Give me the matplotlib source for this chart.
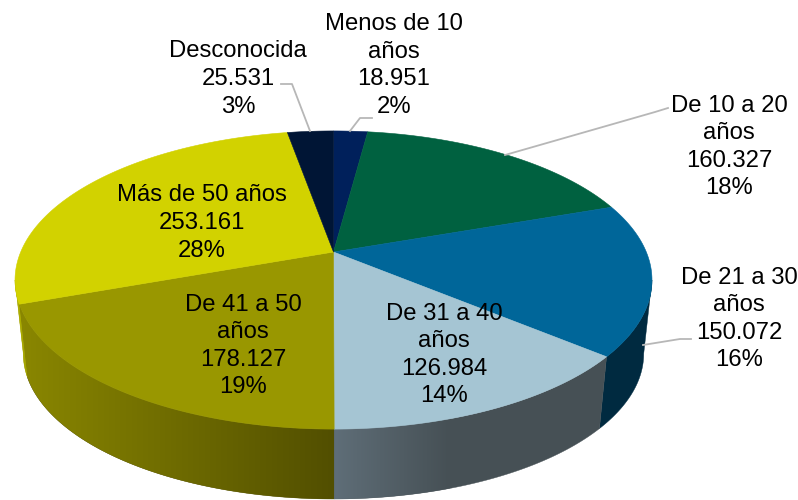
import numpy as np
import matplotlib
matplotlib.use('Agg')
import matplotlib.pyplot as plt
from matplotlib.colors import LinearSegmentedColormap
from matplotlib.patches import Polygon

categories = ['Menos de 10\naños', 'De 10 a 20\naños', 'De 21 a 30\naños', 'De 31 a 40\naños',
              'De 41 a 50\naños', 'Más de 50 años', 'Desconocida']
values = [18951, 160327, 150072, 126984, 178127, 253161, 25531]
percents = ['2%', '18%', '16%', '14%', '19%', '28%', '3%']

top_colors = ['#00205b', '#006140', '#006699', '#a5c5d3', '#999700', '#d2d200', '#001535']
wall_left = ['#00205b', '#006140', '#002a40', '#5f6e78', '#8a8700', '#b5b500', '#001535']
wall_right = ['#00205b', '#006140', '#002a40', '#465055', '#524f00', '#a0a000', '#001535']

label_pos = [(394, 65.5), (729, 147), (739, 319), (444, 355), (243, 346), (202, 223), (238, 79)]
leaders = [
    [(372, 118), (360, 118), (350, 131)],
    [(668, 108), (655, 112), (505, 155)],
    [(691, 339), (680, 339), (643, 345)],
    [(281, 84), (292, 84), (310, 131)],
]

CX, CY = 333.5, 252
A, B, K = 312.8, 143.8, 0.188
DROP, SHRINK = 74.5, 0.974


def project(t, bottom=False):
    # perspective view of the unit circle, t clockwise from 12 o'clock
    d = 1 + K * np.cos(t)
    x = A * np.sin(t) / d
    y = B * np.cos(t) / d
    if bottom:
        return CX + x * SHRINK, CY + DROP - y * SHRINK
    return CX + x, CY - y


fig = plt.figure(figsize=(7.98, 5), dpi=100)
ax = fig.add_axes([0, 0, 1, 1])

edges = 2 * np.pi * np.concatenate([[0], np.cumsum(values)]) / sum(values)

# the wall only shows between the two widest points of the ellipse
side = np.arccos(-K)
for i in range(len(values)):
    t0 = max(edges[i], side)
    t1 = min(edges[i + 1], 2 * np.pi - side)
    if t1 <= t0:
        continue
    t = np.linspace(t0, t1, 200)
    xt, yt = project(t)
    xb, yb = project(t, bottom=True)
    xs = np.r_[xt, xb[::-1]]
    ys = np.r_[yt, yb[::-1]]
    ax.fill(xs, ys, fc=wall_right[i], ec=wall_right[i], lw=0.3, zorder=1)
    if wall_left[i] != wall_right[i]:
        clip = Polygon(np.column_stack([xs, ys]), fc='none', ec='none', transform=ax.transData)
        ax.add_patch(clip)
        cmap = LinearSegmentedColormap.from_list('w', [wall_left[i], wall_right[i]])
        x1 = 450 if i == 3 else xs.max()  # the grey wall stops changing at 450
        im = ax.imshow(np.linspace(0, 1, 256)[None, :], cmap=cmap, aspect='auto', zorder=1.1,
                       extent=[xs.min(), x1, ys.max(), ys.min()])
        im.set_clip_path(clip)

# top face
for i in range(len(values)):
    t = np.linspace(edges[i], edges[i + 1], 200)
    xt, yt = project(t)
    ax.fill(np.r_[CX, xt], np.r_[CY, yt], fc=top_colors[i], ec=top_colors[i], lw=0.4, zorder=2)

for pts in leaders:
    xs, ys = zip(*pts)
    ax.plot(xs, ys, color='#b7b7b7', lw=1.3, zorder=3)

for cat, val, pct, (x, y) in zip(categories, values, percents, label_pos):
    txt = cat + '\n' + f'{val:,}'.replace(',', '.') + '\n' + pct
    ax.text(x, y, txt, ha='center', va='center', multialignment='center', fontsize=17.2,
            family='Liberation Sans', color='black', linespacing=1.33, zorder=4)

ax.set_xlim(0, 798)
ax.set_ylim(500, 0)
ax.axis('off')

fig.savefig('out.png', dpi=100)
